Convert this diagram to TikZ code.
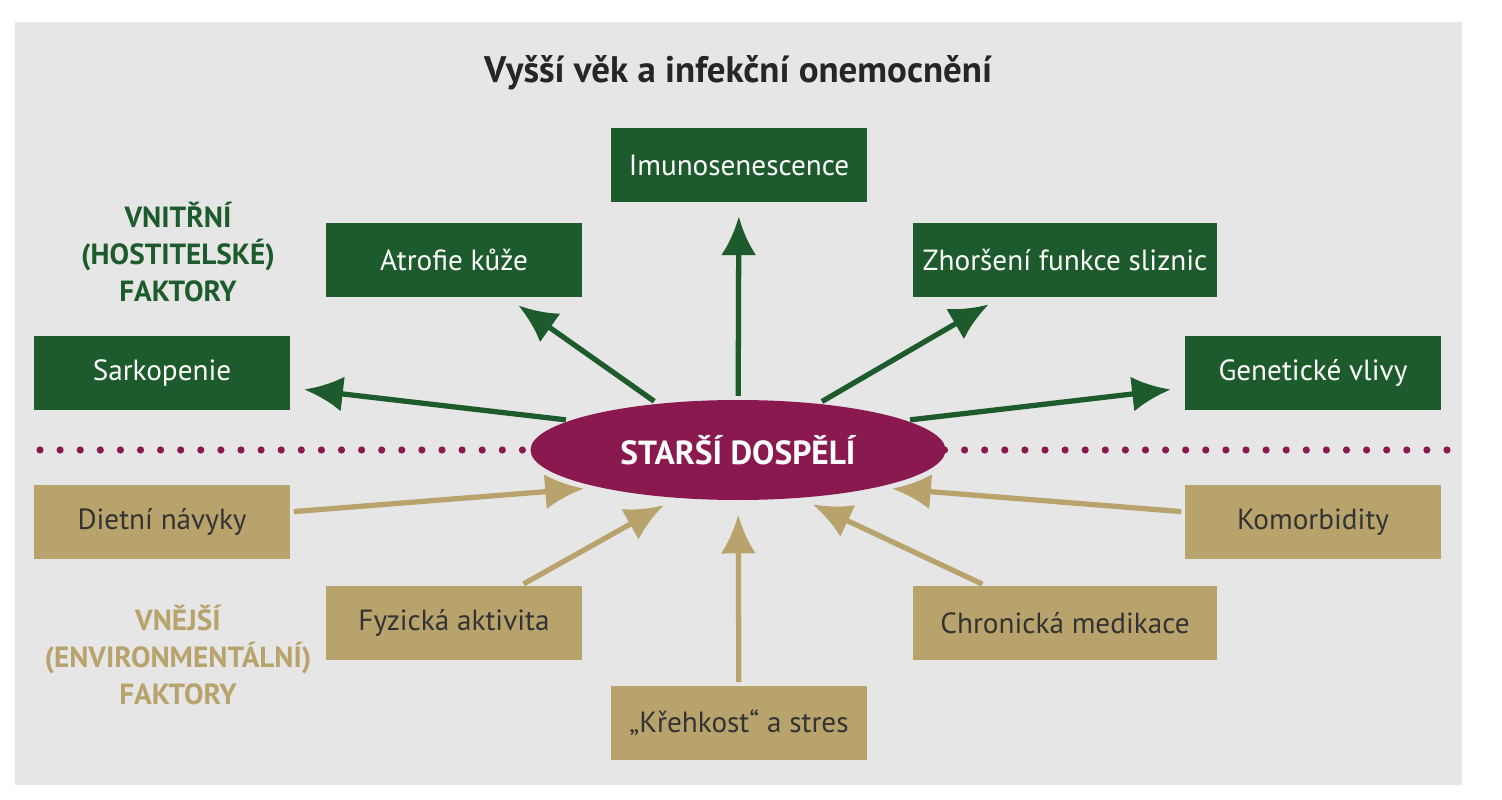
\documentclass[tikz,border=0pt]{standalone}
\usepackage{fontspec}
\setmainfont{PT Sans}
\usetikzlibrary{arrows.meta}
\usetikzlibrary{positioning}
\usetikzlibrary{shapes.geometric}
\definecolor{hostgreen}{HTML}{1D5B2C}
\definecolor{envgold}{HTML}{B7A36B}
\definecolor{oldmaroon}{HTML}{8A1950}
\definecolor{panelgray}{HTML}{E6E6E6}
\begin{document}
\begin{tikzpicture}[x=0.01cm,y=-0.01cm]
		\tikzset{gbox/.style = {fill=hostgreen,text=white,minimum width=7.2cm*0.354,minimum height=2.07cm*0.354,font=\fontsize{8.3}{10}\selectfont,inner sep=0pt}}
		\tikzset{ybox/.style = {gbox,fill=envgold,text=black!80}}
		\tikzset{wide/.style = {minimum width=8.6cm*0.354}}
		\tikzset{garrow/.style = {-{Latex[length=11pt,width=10pt]},line width=1.5pt,draw=hostgreen,shorten >=4pt,shorten <=1pt}}
		\tikzset{yarrow/.style = {garrow,draw=envgold}}
		% frame
		\useasboundingbox (0,0) rectangle (1502,800);
		\fill[panelgray] (15,22) rectangle (1462,785);
		\node[font=\fontsize{10.5}{12}\selectfont\bfseries,text=black!85] (title) at (738,73) {Vyšší věk a infekční onemocnění};
		% dotted divider
		\foreach \i in {0,...,70} {
			\fill[oldmaroon] (40+\i*20.1,450) circle (3.6);
		}
		% centre
		\node[ellipse,fill=oldmaroon,text=white,minimum width=415*0.01cm,minimum height=100*0.01cm,inner sep=0pt,font=\fontsize{9.5}{11}\selectfont\bfseries] (ell) at (738,450) {STARŠÍ DOSPĚLÍ};
		% host factors
		\node[gbox] (imun) at (739,165) {Imunosenescence};
		\node[gbox] (atro) at (454,260) {Atrofie kůže};
		\node[gbox,wide] (zhor) at (1065,260) {Zhoršení funkce sliznic};
		\node[gbox] (sark) at (162,373) {Sarkopenie};
		\node[gbox] (gene) at (1313,373) {Genetické vlivy};
		% environment factors
		\node[ybox] (diet) at (162,522) {Dietní návyky};
		\node[ybox] (komo) at (1313,522) {Komorbidity};
		\node[ybox] (fyzi) at (454,623) {Fyzická aktivita};
		\node[ybox,wide] (chro) at (1065,623) {Chronická medikace};
		\node[ybox] (kreh) at (739,723) {„Křehkost“ a stres};
		% side labels
		\node[font=\fontsize{8.3}{10.5}\selectfont\bfseries,text=hostgreen,align=center] (vnit) at (178,252) {VNITŘNÍ\\(HOSTITELSKÉ)\\FAKTORY};
		\node[font=\fontsize{8.3}{10.5}\selectfont\bfseries,text=envgold,align=center] (vnej) at (178,655) {VNĚJŠÍ\\(ENVIRONMENTÁLNÍ)\\FAKTORY};
		% arrows
		\draw[garrow] (ell) -- (imun);
		\draw[garrow] (ell.150) -- (atro);
		\draw[garrow] (ell.30) -- (zhor);
		\draw[garrow] (ell.170) -- (sark);
		\draw[garrow] (ell.10) -- (gene);
		\draw[yarrow] (diet) -- (ell.195);
		\draw[yarrow] (fyzi) -- (ell.218);
		\draw[yarrow] (kreh) -- (ell);
		\draw[yarrow] (chro) -- (ell.322);
		\draw[yarrow] (komo) -- (ell.345);
\end{tikzpicture}
\end{document}
